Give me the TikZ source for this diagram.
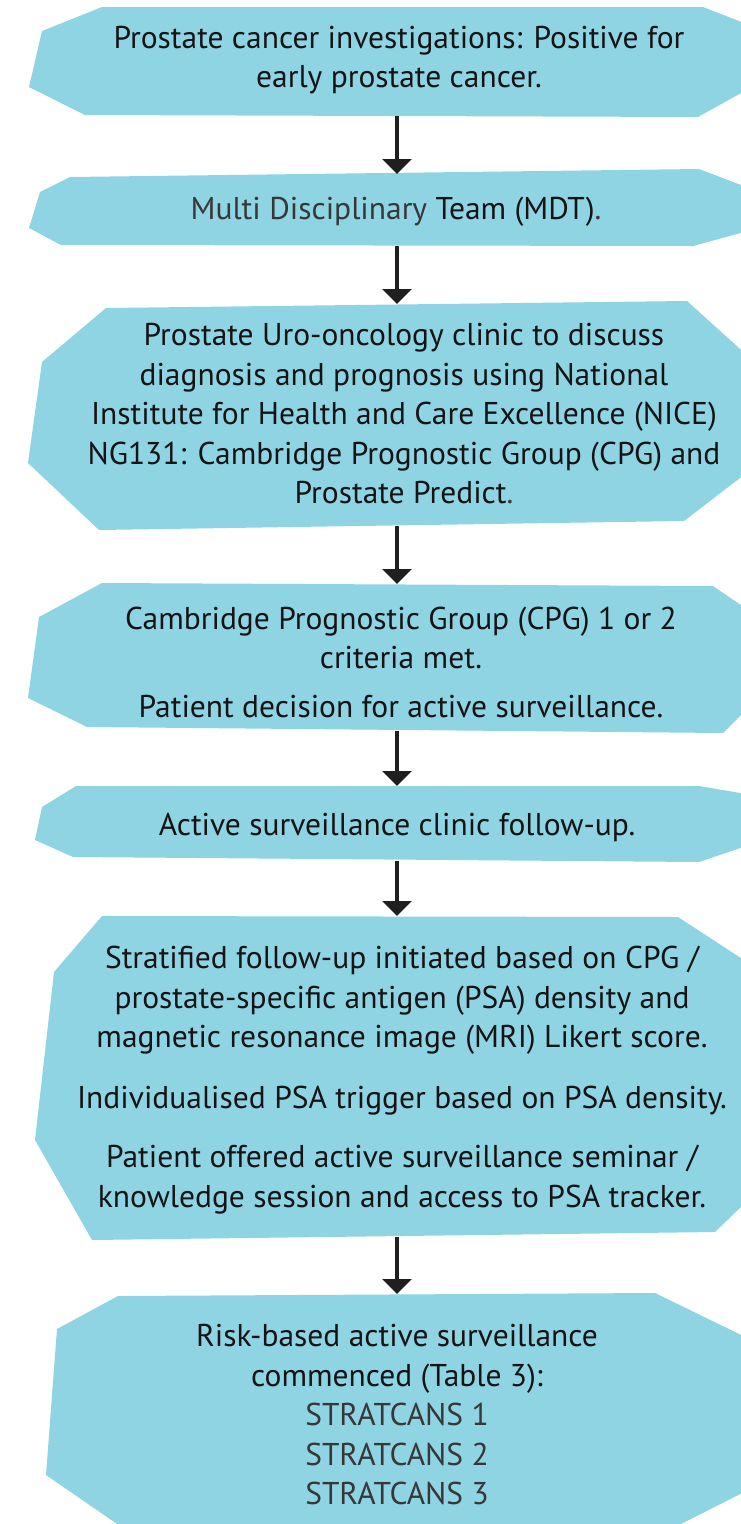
\documentclass[tikz,border=0pt]{standalone}
\usepackage{fontspec}
\setmainfont{PT Sans}
\usetikzlibrary{arrows.meta}

\definecolor{boxblue}{RGB}{143,212,227}
\definecolor{inkgrey}{RGB}{55,55,55}
\tikzset{
  box/.style={fill=boxblue},
  boxtext/.style={align=center, inner sep=0pt, text=black!92,
    font=\fontsize{31.5}{39.5}\selectfont},
  flow/.style={line width=4pt, draw=black!88,
    -{Triangle[width=29pt,length=15pt]}},
}

\begin{document}
\begin{tikzpicture}[x=1pt,y=-1pt]
  \useasboundingbox (0,0) rectangle (741,1524);
  \clip (0,0) rectangle (741,1524);

  % the boxes
  \fill[box] (102,7) -- (703,7) -- (770,33) -- (770,77) -- (698,117)
    -- (85,115) -- (29,87) -- (42,31) -- cycle;
  \fill[box] (70,177) -- (699,169) -- (770,196) -- (770,225) -- (693,246)
    -- (61,245) -- (29,228) -- (40,192) -- cycle;
  \fill[box] (106,308) -- (687,301) -- (770,376) -- (770,455) -- (684,521)
    -- (99,530) -- (28,463) -- (42,362) -- cycle;
  \fill[box] (102,583) -- (713,586) -- (770,625) -- (770,686) -- (723,733)
    -- (87,727) -- (28,698) -- (39,617) -- cycle;
  \fill[box] (76,786) -- (699,786) -- (770,798) -- (770,838) -- (699,862)
    -- (73,857) -- (35,840) -- (42,807) -- cycle;
  \fill[box] (102,916) -- (678,917) -- (770,977) -- (770,1179) -- (715,1232)
    -- (92,1240) -- (35,1140) -- (54,972) -- cycle;
  \fill[box] (118,1296) -- (655,1293) -- (770,1349) -- (770,1479) -- (677,1526)
    -- (120,1526) -- (46,1475) -- (57,1329) -- cycle;

  % the texts
  \node[boxtext] (n1) at (399,60) {Prostate cancer investigations: Positive for\\
    early prostate cancer.};
  \node[boxtext] (n2) at (396,212) {\textcolor{inkgrey}{Multi Disciplinary}
    Team (MDT)\textcolor{inkgrey}{.}};
  \node[boxtext] (n3) at (404,414) {Prostate Uro-oncology clinic to discuss\\
    diagnosis and prognosis using National\\
    Institute for Health and Care Excellence (NICE)\\
    NG131: Cambridge Prognostic Group (CPG) and\\
    Prostate Predict\textcolor{inkgrey}{.}};
  \node[boxtext] (n4) at (401,662) {Cambridge Prognostic Group (CPG) 1 or 2\\
    criteria met.\\[9pt]
    Patient decision for active surveillance.};
  \node[boxtext] (n5) at (397,827) {Active surveillance clinic follow-up.};
  \node[boxtext] (n6) at (402,1080) {Stratified follow-up initiated based on CPG /\\
    prostate-specific antigen (PSA) density and\\
    magnetic resonance image (MRI) Likert score.\\[21pt]
    Individualised PSA trigger based on PSA density.\\[20pt]
    Patient offered active surveillance seminar /\\
    knowledge session and access to PSA tracker.};
  \node[boxtext] (n7) at (397,1415) {Risk-based active surveillance\\
    commenced (Table 3):\\
    \textcolor{inkgrey}{STRATCANS 1}\\
    \textcolor{inkgrey}{STRATCANS 2}\\
    \textcolor{inkgrey}{STRATCANS 3}};

  % arrow ends
  \coordinate (n1b) at (397,116);
  \coordinate (n2t) at (397,174);
  \coordinate (n2b) at (397,246);
  \coordinate (n3t) at (397,304);
  \coordinate (n3b) at (397,526);
  \coordinate (n4t) at (397,584);
  \coordinate (n4b) at (397,731);
  \coordinate (n5t) at (397,786);
  \coordinate (n5b) at (397,861);
  \coordinate (n6t) at (397,916);
  \coordinate (n6b) at (397,1237);
  \coordinate (n7t) at (397,1294);

  \draw[flow] (n1b) -- (n2t);
  \draw[flow] (n2b) -- (n3t);
  \draw[flow] (n3b) -- (n4t);
  \draw[flow] (n4b) -- (n5t);
  \draw[flow] (n5b) -- (n6t);
  \draw[flow] (n6b) -- (n7t);
\end{tikzpicture}
\end{document}
